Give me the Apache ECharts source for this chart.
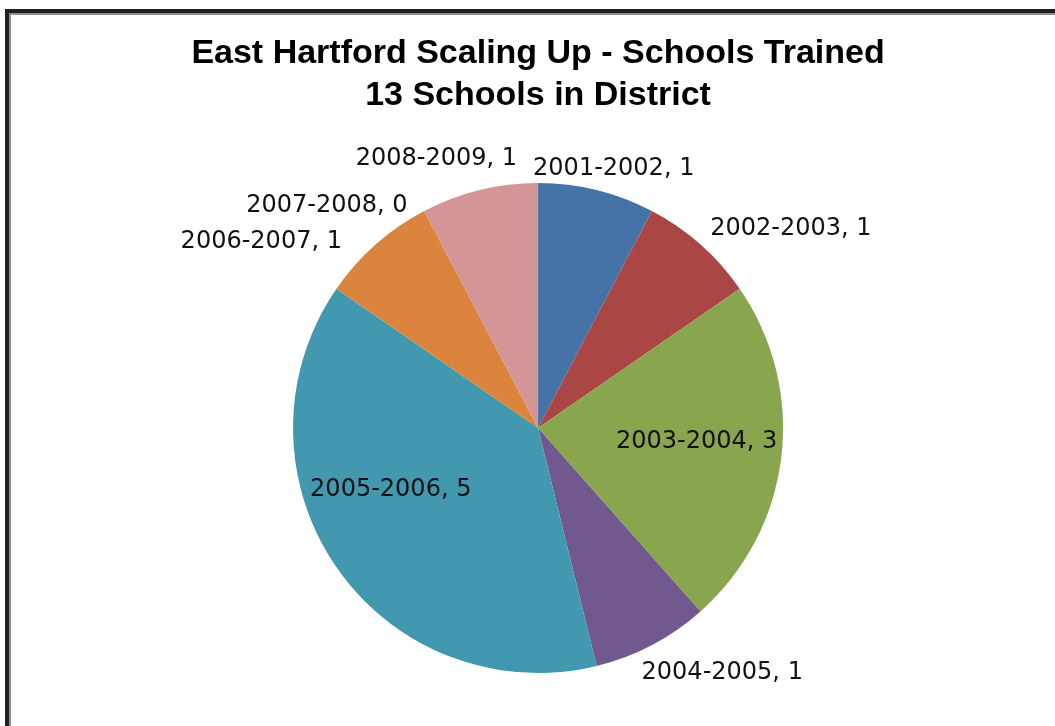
<!DOCTYPE html>
<html>
<head>
<meta charset="utf-8">
<script src="https://cdn.jsdelivr.net/npm/echarts@6/dist/echarts.min.js"></script>
<style>
  html, body { margin: 0; padding: 0; background: #fff; overflow: hidden; }
  #chart { position: absolute; left: 0; top: 0; width: 1055px; height: 726px; }
  /* dark frame + thin grey inner line, only top/left are visible in the crop */
  .frame { position: absolute; width: 2000px; height: 2000px; pointer-events: none; }
  .frame.outer { left: 5px; top: 9px; border-left: 4px solid #231f20; border-top: 4px solid #231f20; }
  .frame.inner { left: 9px; top: 13px; border-left: 2px solid #8e8e8e; border-top: 2px solid #8e8e8e; }
</style>
</head>
<body>
<div id="chart"></div>
<div class="frame outer"></div>
<div class="frame inner"></div>
<script>
const seasons = ['2001-2002', '2002-2003', '2003-2004', '2004-2005', '2005-2006', '2006-2007', '2007-2008', '2008-2009']
const schoolsTrained = [1, 1, 3, 1, 5, 1, 0, 1]
const sliceColors = ['#4572a7', '#aa4643', '#89a54e', '#71588f', '#4198af', '#db843d', '#93a9cf', '#d39595']
// which labels sit on the slice (Excel "best fit")
const insideLabels = ['2003-2004', '2005-2006']

// small nudges so the labels land where Excel put them
const labelNudge = [
  [-71, -12], [-2, -8], [34, -1], [-20, 19],
  [-44, -10], [-22, 5], [-7, 4], [45, -22],
]

const chart = echarts.init(document.getElementById('chart'), null, { renderer: 'canvas' })

const pieData = seasons.map((s, i) => ({
  name: s,
  value: schoolsTrained[i],
  itemStyle: { color: sliceColors[i] },
  label: { position: insideLabels.includes(s) ? 'inside' : 'outside' },
}))

chart.setOption({
  backgroundColor: 'transparent',
  animation: false,
  title: {
    text: 'East Hartford Scaling Up - Schools Trained\n13 Schools in District',
    left: '51%',
    textAlign: 'center',
    top: 33,
    padding: 0,
    textStyle: {
      fontFamily: 'Liberation Sans',
      fontWeight: 'bold',
      fontSize: 34,
      lineHeight: 42,
      color: '#000',
    },
  },
  series: [
    {
      type: 'pie',
      center: ['51%', 428],
      radius: 245,
      startAngle: 90,
      clockwise: true,
      avoidLabelOverlap: false,
      data: pieData,
      itemStyle: { borderWidth: 0 },
      label: {
        show: true,
        formatter: '{b}, {c}',
        fontFamily: 'DejaVu Sans',
        fontSize: 24,
        color: '#111',
      },
      labelLine: { show: false, length: 10, length2: 0 },
      labelLayout: (p) => {
        const n = labelNudge[p.dataIndex]
        return { dx: n[0], dy: n[1] }
      },
      emphasis: { disabled: true },
    },
  ],
})
</script>
</body>
</html>
